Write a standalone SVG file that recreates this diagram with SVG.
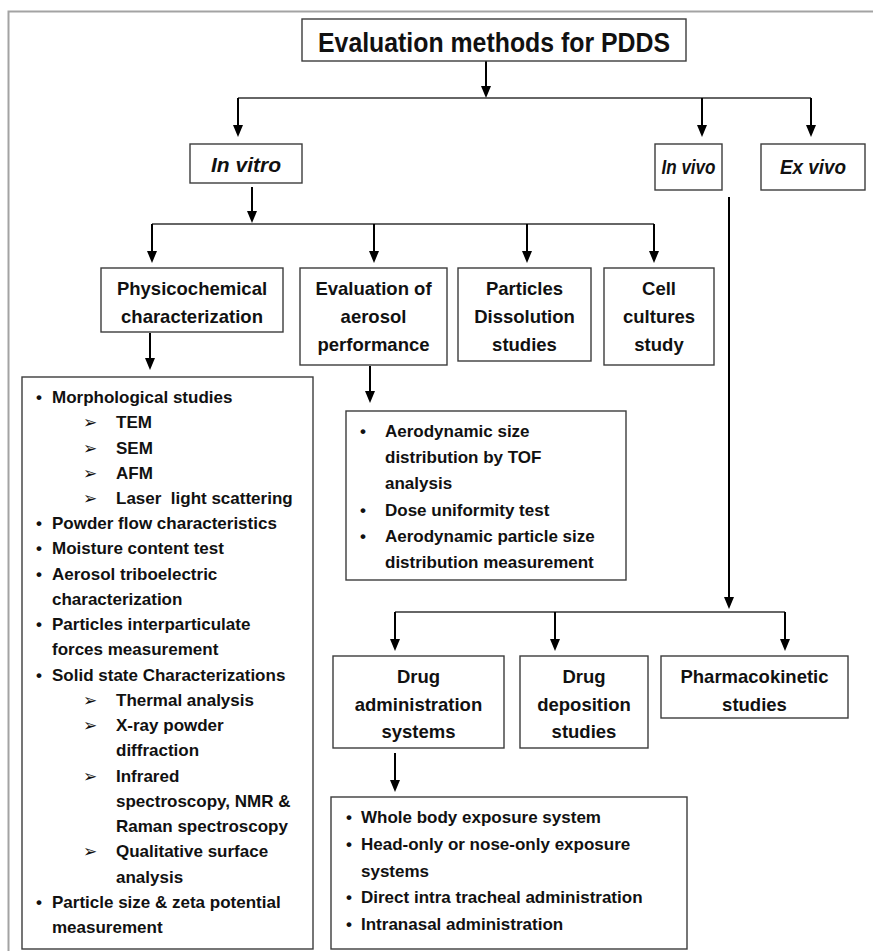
<svg xmlns="http://www.w3.org/2000/svg" width="873" height="951" viewBox="0 0 873 951">
<defs>
<marker id="ah" viewBox="0 0 12 10" refX="9" refY="5" markerWidth="12" markerHeight="10" orient="auto" markerUnits="userSpaceOnUse">
<path d="M0,0 L12,5 L0,10 z" fill="#000"/>
</marker>
<style>
.box{fill:#fff;stroke:#3c3c3c;stroke-width:1.4}
.t{font-family:"Liberation Sans",Arial,sans-serif;font-weight:bold;fill:#111}
.n{font-size:18.5px;text-anchor:middle}
.l{font-size:17px}
.b{font-size:17px;text-anchor:middle}
.ar{font-family:"DejaVu Sans",sans-serif;font-size:17px;fill:#111}
.v{stroke:#000;stroke-width:2;fill:none;marker-end:url(#ah)}
.h{stroke:#333;stroke-width:1.6;fill:none}
.i{font-style:italic;font-size:20px;text-anchor:middle}
</style>
</defs>
<rect width="873" height="951" fill="#fff"/>
<path d="M8.5,951 V11.5 H873" fill="none" stroke="#a3a3a3" stroke-width="2"/>

<g id="connectors">
<line class="v" x1="486" y1="61" x2="486" y2="95"/>
<line class="h" x1="238" y1="98" x2="811" y2="98"/>
<line class="v" x1="238" y1="98" x2="238" y2="134"/>
<line class="v" x1="702" y1="98" x2="702" y2="134"/>
<line class="v" x1="811" y1="98" x2="811" y2="134"/>
<line class="v" x1="252" y1="187" x2="252" y2="220"/>
<line class="h" x1="152" y1="224" x2="654" y2="224"/>
<line class="v" x1="152" y1="224" x2="152" y2="260"/>
<line class="v" x1="374" y1="224" x2="374" y2="260"/>
<line class="v" x1="527" y1="224" x2="527" y2="260"/>
<line class="v" x1="654" y1="224" x2="654" y2="260"/>
<line class="v" x1="150" y1="333" x2="150" y2="367"/>
<line class="v" x1="370" y1="366" x2="370" y2="400"/>
<line class="v" x1="729" y1="197" x2="729" y2="606"/>
<line class="h" x1="395" y1="612" x2="785" y2="612"/>
<line class="v" x1="395" y1="612" x2="395" y2="648"/>
<line class="v" x1="555" y1="612" x2="555" y2="648"/>
<line class="v" x1="785" y1="612" x2="785" y2="648"/>
<line class="v" x1="395" y1="753" x2="395" y2="789"/>
</g>

<g id="title">
<rect class="box" x="302" y="19" width="384" height="42"/>
<text class="t" x="494" y="52" font-size="27" text-anchor="middle" textLength="352" lengthAdjust="spacingAndGlyphs">Evaluation methods for PDDS</text>
</g>

<g id="invitro">
<rect class="box" x="190" y="144" width="112" height="39"/>
<text class="t i" x="246" y="172" textLength="70" lengthAdjust="spacingAndGlyphs">In vitro</text>
</g>
<g id="invivo">
<rect class="box" x="655" y="144" width="67" height="46"/>
<text class="t i" x="688.5" y="174" textLength="54" lengthAdjust="spacingAndGlyphs">In vivo</text>
</g>
<g id="exvivo">
<rect class="box" x="761" y="144" width="104" height="46"/>
<text class="t i" x="813" y="174" textLength="66" lengthAdjust="spacingAndGlyphs">Ex vivo</text>
</g>

<g id="physicochemical">
<rect class="box" x="101" y="268" width="182" height="64"/>
<text class="t n" x="192" y="295">Physicochemical</text>
<text class="t n" x="192" y="323">characterization</text>
</g>
<g id="aerosol">
<rect class="box" x="300" y="268" width="147" height="97"/>
<text class="t n" x="373.5" y="295">Evaluation of</text>
<text class="t n" x="373.5" y="323">aerosol</text>
<text class="t n" x="373.5" y="351">performance</text>
</g>
<g id="dissolution">
<rect class="box" x="458" y="268" width="133" height="93"/>
<text class="t n" x="524.5" y="295">Particles</text>
<text class="t n" x="524.5" y="323">Dissolution</text>
<text class="t n" x="524.5" y="351">studies</text>
</g>
<g id="cell">
<rect class="box" x="604" y="268" width="110" height="97"/>
<text class="t n" x="659" y="295">Cell</text>
<text class="t n" x="659" y="323">cultures</text>
<text class="t n" x="659" y="351">study</text>
</g>

<g id="physico-list">
<rect class="box" x="22" y="377" width="291" height="572"/>
<text class="t b" x="39" y="403">•</text><text class="t l" x="52" y="403">Morphological studies</text>
<text class="ar" x="83" y="428">➢</text><text class="t l" x="116" y="428">TEM</text>
<text class="ar" x="83" y="453.5">➢</text><text class="t l" x="116" y="453.5">SEM</text>
<text class="ar" x="83" y="478.7">➢</text><text class="t l" x="116" y="478.7">AFM</text>
<text class="ar" x="83" y="504">➢</text><text class="t l" x="116" y="504">Laser&#160; light scattering</text>
<text class="t b" x="39" y="529.2">•</text><text class="t l" x="52" y="529.2">Powder flow characteristics</text>
<text class="t b" x="39" y="554.4">•</text><text class="t l" x="52" y="554.4">Moisture content test</text>
<text class="t b" x="39" y="579.7">•</text><text class="t l" x="52" y="579.7">Aerosol triboelectric</text>
<text class="t l" x="52" y="604.9">characterization</text>
<text class="t b" x="39" y="630.2">•</text><text class="t l" x="52" y="630.2">Particles interparticulate</text>
<text class="t l" x="52" y="655.4">forces measurement</text>
<text class="t b" x="39" y="680.6">•</text><text class="t l" x="52" y="680.6">Solid state Characterizations</text>
<text class="ar" x="83" y="705.9">➢</text><text class="t l" x="116" y="705.9">Thermal analysis</text>
<text class="ar" x="83" y="731.1">➢</text><text class="t l" x="116" y="731.1">X-ray powder</text>
<text class="t l" x="116" y="756.4">diffraction</text>
<text class="ar" x="83" y="781.6">➢</text><text class="t l" x="116" y="781.6">Infrared</text>
<text class="t l" x="116" y="806.8">spectroscopy, NMR &amp;</text>
<text class="t l" x="116" y="832.1">Raman spectroscopy</text>
<text class="ar" x="83" y="857.3">➢</text><text class="t l" x="116" y="857.3">Qualitative surface</text>
<text class="t l" x="116" y="882.6">analysis</text>
<text class="t b" x="39" y="907.8">•</text><text class="t l" x="52" y="907.8">Particle size &amp; zeta potential</text>
<text class="t l" x="52" y="933">measurement</text>
</g>

<g id="aerosol-list">
<rect class="box" x="346" y="411" width="280" height="169"/>
<text class="t b" x="363" y="437">•</text><text class="t l" x="385" y="437">Aerodynamic size</text>
<text class="t l" x="385" y="463">distribution by TOF</text>
<text class="t l" x="385" y="489">analysis</text>
<text class="t b" x="363" y="516">•</text><text class="t l" x="385" y="516">Dose uniformity test</text>
<text class="t b" x="363" y="542">•</text><text class="t l" x="385" y="542">Aerodynamic particle size</text>
<text class="t l" x="385" y="568">distribution measurement</text>
</g>

<g id="drug-admin">
<rect class="box" x="333" y="656" width="171" height="92"/>
<text class="t n" x="418.5" y="683">Drug</text>
<text class="t n" x="418.5" y="711">administration</text>
<text class="t n" x="418.5" y="738">systems</text>
</g>
<g id="drug-deposition">
<rect class="box" x="520" y="656" width="128" height="92"/>
<text class="t n" x="584" y="683">Drug</text>
<text class="t n" x="584" y="711">deposition</text>
<text class="t n" x="584" y="738">studies</text>
</g>
<g id="pharmacokinetic">
<rect class="box" x="661" y="656" width="187" height="62"/>
<text class="t n" x="754.5" y="683">Pharmacokinetic</text>
<text class="t n" x="754.5" y="711">studies</text>
</g>

<g id="admin-list">
<rect class="box" x="331" y="797" width="356" height="152"/>
<text class="t b" x="349" y="823">•</text><text class="t l" x="361" y="823">Whole body exposure system</text>
<text class="t b" x="349" y="850">•</text><text class="t l" x="361" y="850">Head-only or nose-only exposure</text>
<text class="t l" x="361" y="876.5">systems</text>
<text class="t b" x="349" y="903">•</text><text class="t l" x="361" y="903">Direct intra tracheal administration</text>
<text class="t b" x="349" y="929.5">•</text><text class="t l" x="361" y="929.5">Intranasal administration</text>
</g>
</svg>
